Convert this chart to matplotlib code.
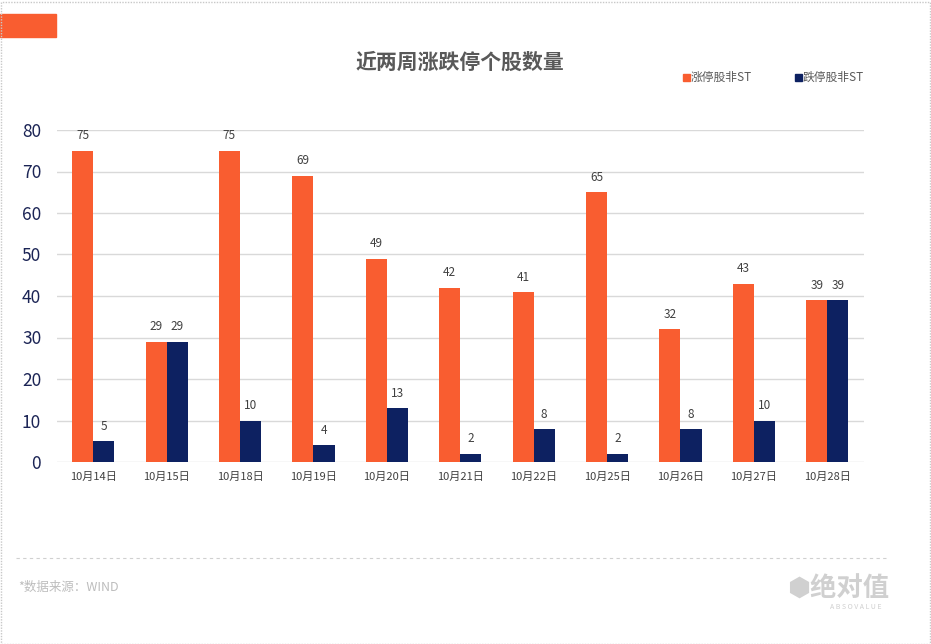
import numpy as np
import matplotlib.pyplot as plt
from matplotlib.patches import Rectangle
from matplotlib.lines import Line2D

plt.rcParams['font.family'] = ['Noto Sans CJK SC', 'DejaVu Sans']

dates = ["10月14日", "10月15日", "10月18日", "10月19日", "10月20日", "10月21日",
         "10月22日", "10月25日", "10月26日", "10月27日", "10月28日"]
limit_up = [75, 29, 75, 69, 49, 42, 41, 65, 32, 43, 39]
limit_down = [5, 29, 10, 4, 13, 2, 8, 2, 8, 10, 39]

orange = "#F95D30"
navy = "#0D2161"

fig = plt.figure(figsize=(9.31, 6.44), dpi=100)
ax = fig.add_axes([56.5 / 931, 1 - 462 / 644, (864 - 56.5) / 931, (462 - 130) / 644])

x = np.arange(len(dates))
w = 0.287
b1 = ax.bar(x - w / 2, limit_up, w, color=orange, zorder=3)
b2 = ax.bar(x + w / 2, limit_down, w, color=navy, zorder=3)

for bars, vals in [(b1, limit_up), (b2, limit_down)]:
    for r, v in zip(bars, vals):
        ax.text(r.get_x() + r.get_width() / 2, v + 2.0, str(v), ha="center", va="bottom",
                fontsize=8.5, color="#404040")

ax.set_xlim(-0.5, len(dates) - 0.5)
ax.set_ylim(0, 80)
ax.set_yticks(range(0, 81, 10))
ax.yaxis.grid(True, color="#d9d9d9", linewidth=1, zorder=0)
for s in ax.spines.values():
    s.set_visible(False)
ax.tick_params(axis="both", length=0)
ax.tick_params(axis="y", labelsize=12.5, labelcolor="#1b2455", pad=11)
ax.tick_params(axis="x", labelsize=8, labelcolor="#404040", pad=7)
ax.set_xticks(x)
ax.set_xticklabels(dates)

fig.text(460 / 931, 1 - 62 / 644, "近两周涨跌停个股数量", ha="center", va="center",
         fontsize=15, fontweight="bold", color="#595959")

# legend
for lx, lab, c in [(683, "涨停股非ST", orange), (795, "跌停股非ST", navy)]:
    fig.patches.append(Rectangle((lx / 931, 1 - 81 / 644), 7 / 931, 7 / 644,
                                 transform=fig.transFigure, color=c))
    fig.text((lx + 8) / 931, 1 - 77 / 644, lab, ha="left", va="center",
             fontsize=8.5, color="#595959")

# decoration
fig.patches.append(Rectangle((0, 1 - 37 / 644), 56 / 931, 23 / 644,
                             transform=fig.transFigure, color=orange))
fig.patches.append(Rectangle((0.5 / 931, 0.5 / 644), 929 / 931, 642 / 644, transform=fig.transFigure,
                             fill=False, edgecolor="#c8c8c8", linestyle=(0, (1, 1)), linewidth=1))
fig.lines.append(Line2D([16 / 931, 888 / 931], [1 - 558 / 644] * 2, transform=fig.transFigure,
                        color="#d0d0d0", linestyle=(0, (3, 3)), linewidth=0.8))
fig.text(18 / 931, 1 - 587 / 644, "*数据来源：WIND", ha="left", va="center",
         fontsize=9, color="#bdbdbd")
fig.text(838 / 931, 1 - 589 / 644, "⬢绝对值", ha="center", va="center",
         fontsize=19, color="#d0d0d0", fontweight="bold")
fig.text(856 / 931, 1 - 607 / 644, "A B S O V A L U E", ha="center", va="center",
         fontsize=5, color="#cfcfcf")

fig.savefig("out.png", dpi=100)
